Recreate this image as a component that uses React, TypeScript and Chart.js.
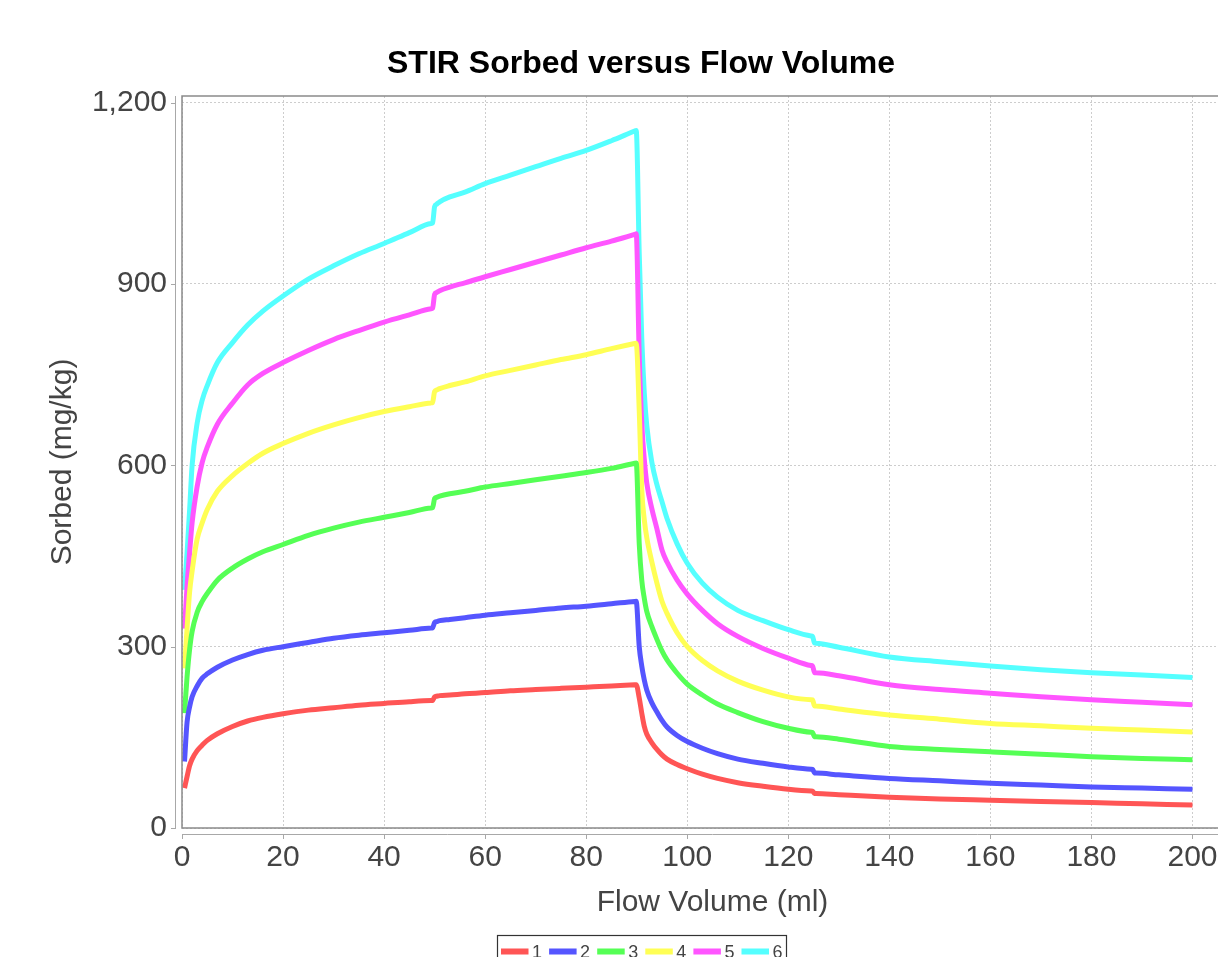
import React, { useEffect, useRef } from 'react';
import { Chart, registerables } from 'chart.js';

Chart.register(...registerables);

const TITLE = 'STIR Sorbed versus Flow Volume';
const X_TITLE = 'Flow Volume (ml)';
const Y_TITLE = 'Sorbed (mg/kg)';

const SERIES_LABELS = ['1', '2', '3', '4', '5', '6'];
const SERIES_COLORS = ['#FF5555', '#5555FF', '#55FF55', '#FFFF55', '#FF55FF', '#55FFFF'];

const X_TICKS = [0, 20, 40, 60, 80, 100, 120, 140, 160, 180, 200];
const Y_TICKS = [0, 300, 600, 900, 1200];

const FLOW_VOLUME = [
  0.5, 1, 1.5, 2, 3, 4, 5, 7, 10, 13, 16, 20, 25, 30, 35, 40, 45, 49.3, 49.6, 50, 50.4, 51, 53, 56, 60, 65, 70, 75, 80, 85, 89.6, 89.9,
  90.5, 91, 91.5, 92, 93, 94, 95, 96, 98, 100, 103, 106, 110, 115, 120, 124.5, 124.8, 125.2, 125.5, 130, 140, 150, 160, 170, 180, 190, 200,
];

const SORBED_1 = [
  66, 85, 103, 114, 128, 137, 145, 156, 168, 177, 183, 189, 195, 199, 203, 206, 209, 210.8, 211, 217, 218, 219, 220, 222, 224, 227, 229, 231, 233, 235, 236.9, 237,
  215, 190, 168, 155, 141, 130, 121, 114, 105, 98, 89, 82, 75, 69, 64, 61.2, 61, 57, 56.9, 55, 51, 48, 46, 44, 42, 40, 38,
];
const SORBED_2 = [
  110, 175, 200, 217, 235, 248, 255, 266, 278, 287, 294, 300, 307, 314, 319, 323, 327, 330.7, 331, 340, 341.5, 343, 345, 348, 352, 356, 360, 364, 367, 371, 374.8, 375,
  300, 268, 245, 228, 207, 192, 178, 167, 153, 143, 132, 123, 114, 107, 101, 97.3, 97, 91, 90.8, 88, 82, 78, 74, 71, 68, 66, 64,
];
const SORBED_3 = [
  190, 250, 295, 325, 357, 375, 388, 410, 430, 445, 457, 469, 484, 496, 506, 514, 522, 529.5, 530, 545, 547, 549, 553, 557, 564, 570, 576, 582, 588, 595, 603.5, 604,
  470, 410, 380, 358, 333, 312, 293, 278, 256, 238, 220, 205, 191, 176, 165, 158.4, 158, 151, 150.8, 147, 135, 130, 126, 122, 118, 115, 113,
];
const SORBED_4 = [
  264, 330, 390, 425, 478, 505, 527, 557, 583, 603, 620, 636, 653, 667, 679, 689, 697, 703.3, 704, 722, 724.5, 727, 732, 738, 748, 757, 766, 775, 783, 793, 801.5, 802,
  690, 560, 510, 480, 440, 405, 375, 355, 323, 300, 277, 260, 243, 228, 217, 212.3, 212, 202, 201.7, 197, 187, 180, 173, 169, 165, 162, 159,
];
const SORBED_5 = [
  330, 400, 455, 505, 565, 605, 630, 668, 703, 733, 752, 770, 790, 808, 823, 837, 849, 859, 860, 883, 886, 889, 895, 902, 912, 924, 936, 948, 960, 971, 982, 983,
  780, 670, 610, 570, 528, 495, 460, 440, 410, 387, 360, 338, 317, 297, 281, 268.8, 268, 257, 256.7, 252, 237, 229, 223, 217, 212, 208, 204,
];
const SORBED_6 = [
  394, 455, 525, 600, 670, 708, 732, 770, 803, 832, 855, 880, 908, 930, 950, 967, 985, 1000, 1001, 1028, 1032, 1036, 1044, 1052, 1066, 1080, 1094, 1108, 1121, 1137, 1153, 1154,
  950, 810, 720, 665, 605, 568, 540, 512, 470, 438, 405, 382, 360, 343, 328, 317.7, 317, 306, 305.6, 299, 283, 275, 268, 262, 257, 253, 249,
];

const SERIES = [SORBED_1, SORBED_2, SORBED_3, SORBED_4, SORBED_5, SORBED_6];

const CANVAS_W = 1282;
const CANVAS_H = 957;
const FONT = '"Liberation Sans", Arial, sans-serif';

const decorPlugin = {
  id: 'decor',
  afterDraw(chart: any) {
    const { ctx, chartArea: a, scales } = chart;
    ctx.save();
    // plot frame
    ctx.strokeStyle = '#8a8a8a';
    ctx.lineWidth = 1.5;
    ctx.setLineDash([]);
    ctx.strokeRect(a.left, a.top, a.right - a.left, a.bottom - a.top);

    // offset y axis line + ticks
    ctx.strokeStyle = '#a8a8a8';
    ctx.lineWidth = 1;
    ctx.beginPath();
    ctx.moveTo(175.5, a.top);
    ctx.lineTo(175.5, a.bottom);
    Y_TICKS.forEach((v) => {
      const y = Math.round(scales.y.getPixelForValue(v)) + 0.5;
      ctx.moveTo(171, y);
      ctx.lineTo(176, y);
    });
    // offset x axis line + ticks
    ctx.moveTo(a.left, 834.5);
    ctx.lineTo(a.right, 834.5);
    X_TICKS.forEach((v) => {
      const x = Math.round(scales.x.getPixelForValue(v)) + 0.5;
      ctx.moveTo(x, 834);
      ctx.lineTo(x, 839);
    });
    ctx.stroke();

    // title
    ctx.fillStyle = '#000';
    ctx.font = `bold 32px ${FONT}`;
    ctx.textAlign = 'center';
    ctx.textBaseline = 'middle';
    ctx.fillText(TITLE, chart.width / 2, 64);

    // boxed legend
    const boxLeft = 497.5;
    const boxTop = 935.5;
    const itemW = 48.1;
    ctx.strokeStyle = '#333';
    ctx.lineWidth = 1.2;
    ctx.strokeRect(boxLeft, boxTop, 289, 40);
    ctx.font = `18px ${FONT}`;
    ctx.textAlign = 'left';
    SERIES_LABELS.forEach((lab, i) => {
      const x0 = 501 + i * itemW;
      ctx.fillStyle = SERIES_COLORS[i];
      ctx.fillRect(x0, 948.5, 27.5, 6);
      ctx.fillStyle = '#444';
      ctx.fillText(lab, x0 + 31, 953);
    });
    ctx.restore();
  },
};

export default function App() {
  const ref = useRef<HTMLCanvasElement>(null);

  useEffect(() => {
    if (!ref.current) return;
    Chart.defaults.font.family = FONT;
    const datasets = SERIES.map((vals, i) => ({
      label: SERIES_LABELS[i],
      data: FLOW_VOLUME.map((x, k) => ({ x, y: vals[k] })),
      borderColor: SERIES_COLORS[i],
      backgroundColor: SERIES_COLORS[i],
      borderWidth: 5,
      pointRadius: 0,
      cubicInterpolationMode: 'monotone' as const,
      borderCapStyle: 'butt' as const,
      borderJoinStyle: 'miter' as const,
      fill: false,
    }));

    const chart = new Chart(ref.current, {
      type: 'line',
      data: { datasets },
      plugins: [decorPlugin],
      options: {
        animation: false,
        responsive: false,
        maintainAspectRatio: false,
        layout: { padding: { top: 96, right: CANVAS_W - 1243, left: 0, bottom: 0 } },
        plugins: {
          legend: { display: false },
          title: { display: false },
          tooltip: { enabled: false },
        },
        scales: {
          x: {
            type: 'linear',
            min: 0,
            max: 210,
            afterFit: (s: any) => {
              s.height = CANVAS_H - 828;
            },
            afterBuildTicks: (s: any) => {
              s.ticks = X_TICKS.map((value) => ({ value }));
            },
            ticks: {
              font: { size: 30 },
              color: '#444',
              padding: 12,
              maxRotation: 0,
              autoSkip: false,
              callback: (v: any) => String(v),
            },
            grid: { color: 'rgba(200,200,200,0.9)', lineWidth: 1, drawTicks: false },
            border: { display: false, dash: [2, 2] },
            title: {
              display: true,
              text: X_TITLE,
              font: { size: 30 },
              color: '#444',
              padding: { top: 0, bottom: 36 },
            },
          },
          y: {
            type: 'linear',
            min: 0,
            max: 1211,
            afterFit: (s: any) => {
              s.width = 182;
            },
            afterBuildTicks: (s: any) => {
              s.ticks = Y_TICKS.map((value) => ({ value }));
            },
            ticks: {
              font: { size: 30 },
              color: '#444',
              padding: 15,
              autoSkip: false,
              callback: (v: any) => Number(v).toLocaleString('en-US'),
            },
            grid: { color: 'rgba(200,200,200,0.9)', lineWidth: 1, drawTicks: false },
            border: { display: false, dash: [2, 2] },
            title: {
              display: true,
              text: Y_TITLE,
              font: { size: 30 },
              color: '#444',
              padding: { top: 45, bottom: 0 },
            },
          },
        },
      },
    });
    return () => chart.destroy();
  }, []);

  return (
    <div style={{ position: 'fixed', left: 0, top: 0, width: 1218, height: 957, overflow: 'hidden', background: '#fff' }}>
      <canvas ref={ref} width={CANVAS_W} height={CANVAS_H} style={{ display: 'block' }} />
    </div>
  );
}
